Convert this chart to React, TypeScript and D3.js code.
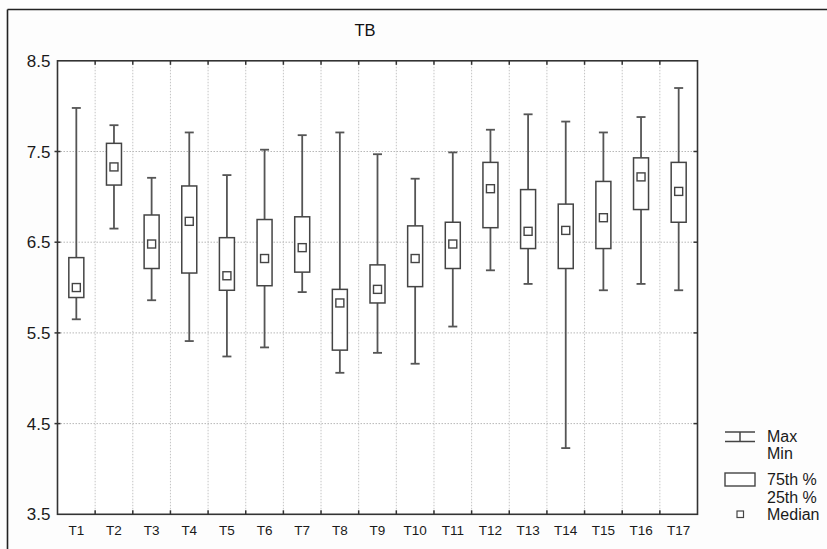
import React from "react";
import * as d3 from "d3";

const categories = ["T1","T2","T3","T4","T5","T6","T7","T8","T9","T10","T11","T12","T13","T14","T15","T16","T17"];
const maxValues = [7.98,7.79,7.21,7.71,7.24,7.52,7.68,7.71,7.47,7.20,7.49,7.74,7.91,7.83,7.71,7.88,8.20];
const q3Values = [6.33,7.59,6.80,7.12,6.55,6.75,6.78,5.98,6.25,6.68,6.72,7.38,7.08,6.92,7.17,7.43,7.38];
const medianValues = [6.00,7.33,6.48,6.73,6.13,6.32,6.44,5.83,5.98,6.32,6.48,7.09,6.62,6.63,6.77,7.22,7.06];
const q1Values = [5.89,7.13,6.21,6.16,5.97,6.02,6.17,5.31,5.83,6.01,6.21,6.66,6.43,6.21,6.43,6.86,6.72];
const minValues = [5.65,6.65,5.86,5.41,5.24,5.34,5.95,5.06,5.28,5.16,5.57,6.19,6.04,4.23,5.97,6.04,5.97];
const yTicks = [3.5,4.5,5.5,6.5,7.5,8.5];
const title = "TB";
const legendLabels = ["Max","Min","75th %","25th %","Median"];

const W = 827, H = 549;
const L = 57.5, R = 697.5, T = 60.8, B = 514.3;

export default function App() {
  const x = d3.scaleBand<string>().domain(categories).range([L, R]).padding(0);
  const y = d3.scaleLinear().domain([3.5, 8.5]).range([B, T]);
  const bw = x.bandwidth();
  const boxW = 15;
  const capW = 9;
  const medS = 8;
  const font = "'Liberation Sans', Arial, sans-serif";
  const boundaries = d3.range(1, categories.length).map(i => L + i * bw);

  return (
    <svg width={W} height={H} style={{ position: "absolute", left: 0, top: 0, background: "#fdfdfd" }}>
      <rect x={0} y={0} width={W} height={H} fill="#fdfdfd" />
      {/* outer frame */}
      <line x1={7.5} x2={W} y1={9.5} y2={9.5} stroke="#222" strokeWidth={1.6} />
      <line x1={7.5} x2={7.5} y1={9.5} y2={H} stroke="#222" strokeWidth={1.6} />
      <text x={365} y={30} dy="0.36em" fontFamily={font} fontSize={16.5} textAnchor="middle" fill="#111">{title}</text>
      <rect x={L} y={T} width={R - L} height={B - T} fill="#fff" />
      {/* grid */}
      {yTicks.slice(1, -1).map(t => (
        <line key={"gy" + t} x1={L} x2={R} y1={y(t)} y2={y(t)} stroke="#b8b8b8" strokeWidth={1} strokeDasharray="1.5,1.5" />
      ))}
      {boundaries.map((bx, i) => (
        <line key={"gx" + i} x1={bx} x2={bx} y1={T} y2={B} stroke="#c4c4c4" strokeWidth={1} strokeDasharray="1.5,1.5" />
      ))}
      {/* boxes */}
      {categories.map((c, i) => {
        const cx = (x(c) as number) + bw / 2;
        return (
          <g key={c}>
            <line x1={cx} x2={cx} y1={y(maxValues[i])} y2={y(q3Values[i])} stroke="#555" strokeWidth={1.8} />
            <line x1={cx} x2={cx} y1={y(q1Values[i])} y2={y(minValues[i])} stroke="#555" strokeWidth={1.8} />
            <line x1={cx - capW / 2} x2={cx + capW / 2} y1={y(maxValues[i])} y2={y(maxValues[i])} stroke="#555" strokeWidth={1.8} />
            <line x1={cx - capW / 2} x2={cx + capW / 2} y1={y(minValues[i])} y2={y(minValues[i])} stroke="#555" strokeWidth={1.8} />
            <rect x={cx - boxW / 2} y={y(q3Values[i])} width={boxW} height={y(q1Values[i]) - y(q3Values[i])} fill="#fff" stroke="#444" strokeWidth={1.5} />
            <rect x={cx - medS / 2} y={y(medianValues[i]) - medS / 2} width={medS} height={medS} fill="#fff" stroke="#444" strokeWidth={1.4} />
          </g>
        );
      })}
      {/* plot frame */}
      <rect x={L} y={T} width={R - L} height={B - T} fill="none" stroke="#333" strokeWidth={1.6} />
      {/* x ticks */}
      {boundaries.map((bx, i) => (
        <g key={"tx" + i}>
          <line x1={bx} x2={bx} y1={B} y2={B - 4} stroke="#333" strokeWidth={1.5} />
          <line x1={bx} x2={bx} y1={T} y2={T + 4} stroke="#333" strokeWidth={1.5} />
        </g>
      ))}
      {yTicks.slice(1, -1).map(t => (
        <g key={"ty" + t}>
          <line x1={L - 3} x2={L + 3} y1={y(t)} y2={y(t)} stroke="#333" strokeWidth={1.5} />
          <line x1={R - 4} x2={R} y1={y(t)} y2={y(t)} stroke="#333" strokeWidth={1.5} />
        </g>
      ))}
      {/* y labels */}
      {yTicks.map(t => (
        <text key={"yl" + t} x={L - 7} y={y(t)} dy="0.36em" textAnchor="end" fontFamily={font} fontSize={17} fill="#1a1a1a">{t.toFixed(1)}</text>
      ))}
      {/* x labels */}
      {categories.map(c => (
        <text key={"xl" + c} x={(x(c) as number) + bw / 2} y={530} dy="0.36em" textAnchor="middle" fontFamily={font} fontSize={13.5} fill="#1a1a1a">{c}</text>
      ))}
      {/* legend */}
      <g>
        <line x1={725} x2={755} y1={432} y2={432} stroke="#444" strokeWidth={1.5} />
        <line x1={725} x2={755} y1={441.5} y2={441.5} stroke="#444" strokeWidth={1.5} />
        <line x1={740} x2={740} y1={432} y2={441.5} stroke="#444" strokeWidth={1.5} />
        <rect x={725} y={473} width={30} height={13} fill="#fff" stroke="#444" strokeWidth={1.4} />
        <rect x={737} y={511} width={6.5} height={6.5} fill="#fff" stroke="#444" strokeWidth={1.2} />
        <text x={767} y={436.5} dy="0.36em" fontFamily={font} fontSize={16} fill="#1a1a1a">{legendLabels[0]}</text>
        <text x={767} y={453} dy="0.36em" fontFamily={font} fontSize={16} fill="#1a1a1a">{legendLabels[1]}</text>
        <text x={767} y={479.5} dy="0.36em" fontFamily={font} fontSize={16} fill="#1a1a1a">{legendLabels[2]}</text>
        <text x={767} y={497} dy="0.36em" fontFamily={font} fontSize={16} fill="#1a1a1a">{legendLabels[3]}</text>
        <text x={767} y={514.5} dy="0.36em" fontFamily={font} fontSize={16} fill="#1a1a1a">{legendLabels[4]}</text>
      </g>
    </svg>
  );
}
